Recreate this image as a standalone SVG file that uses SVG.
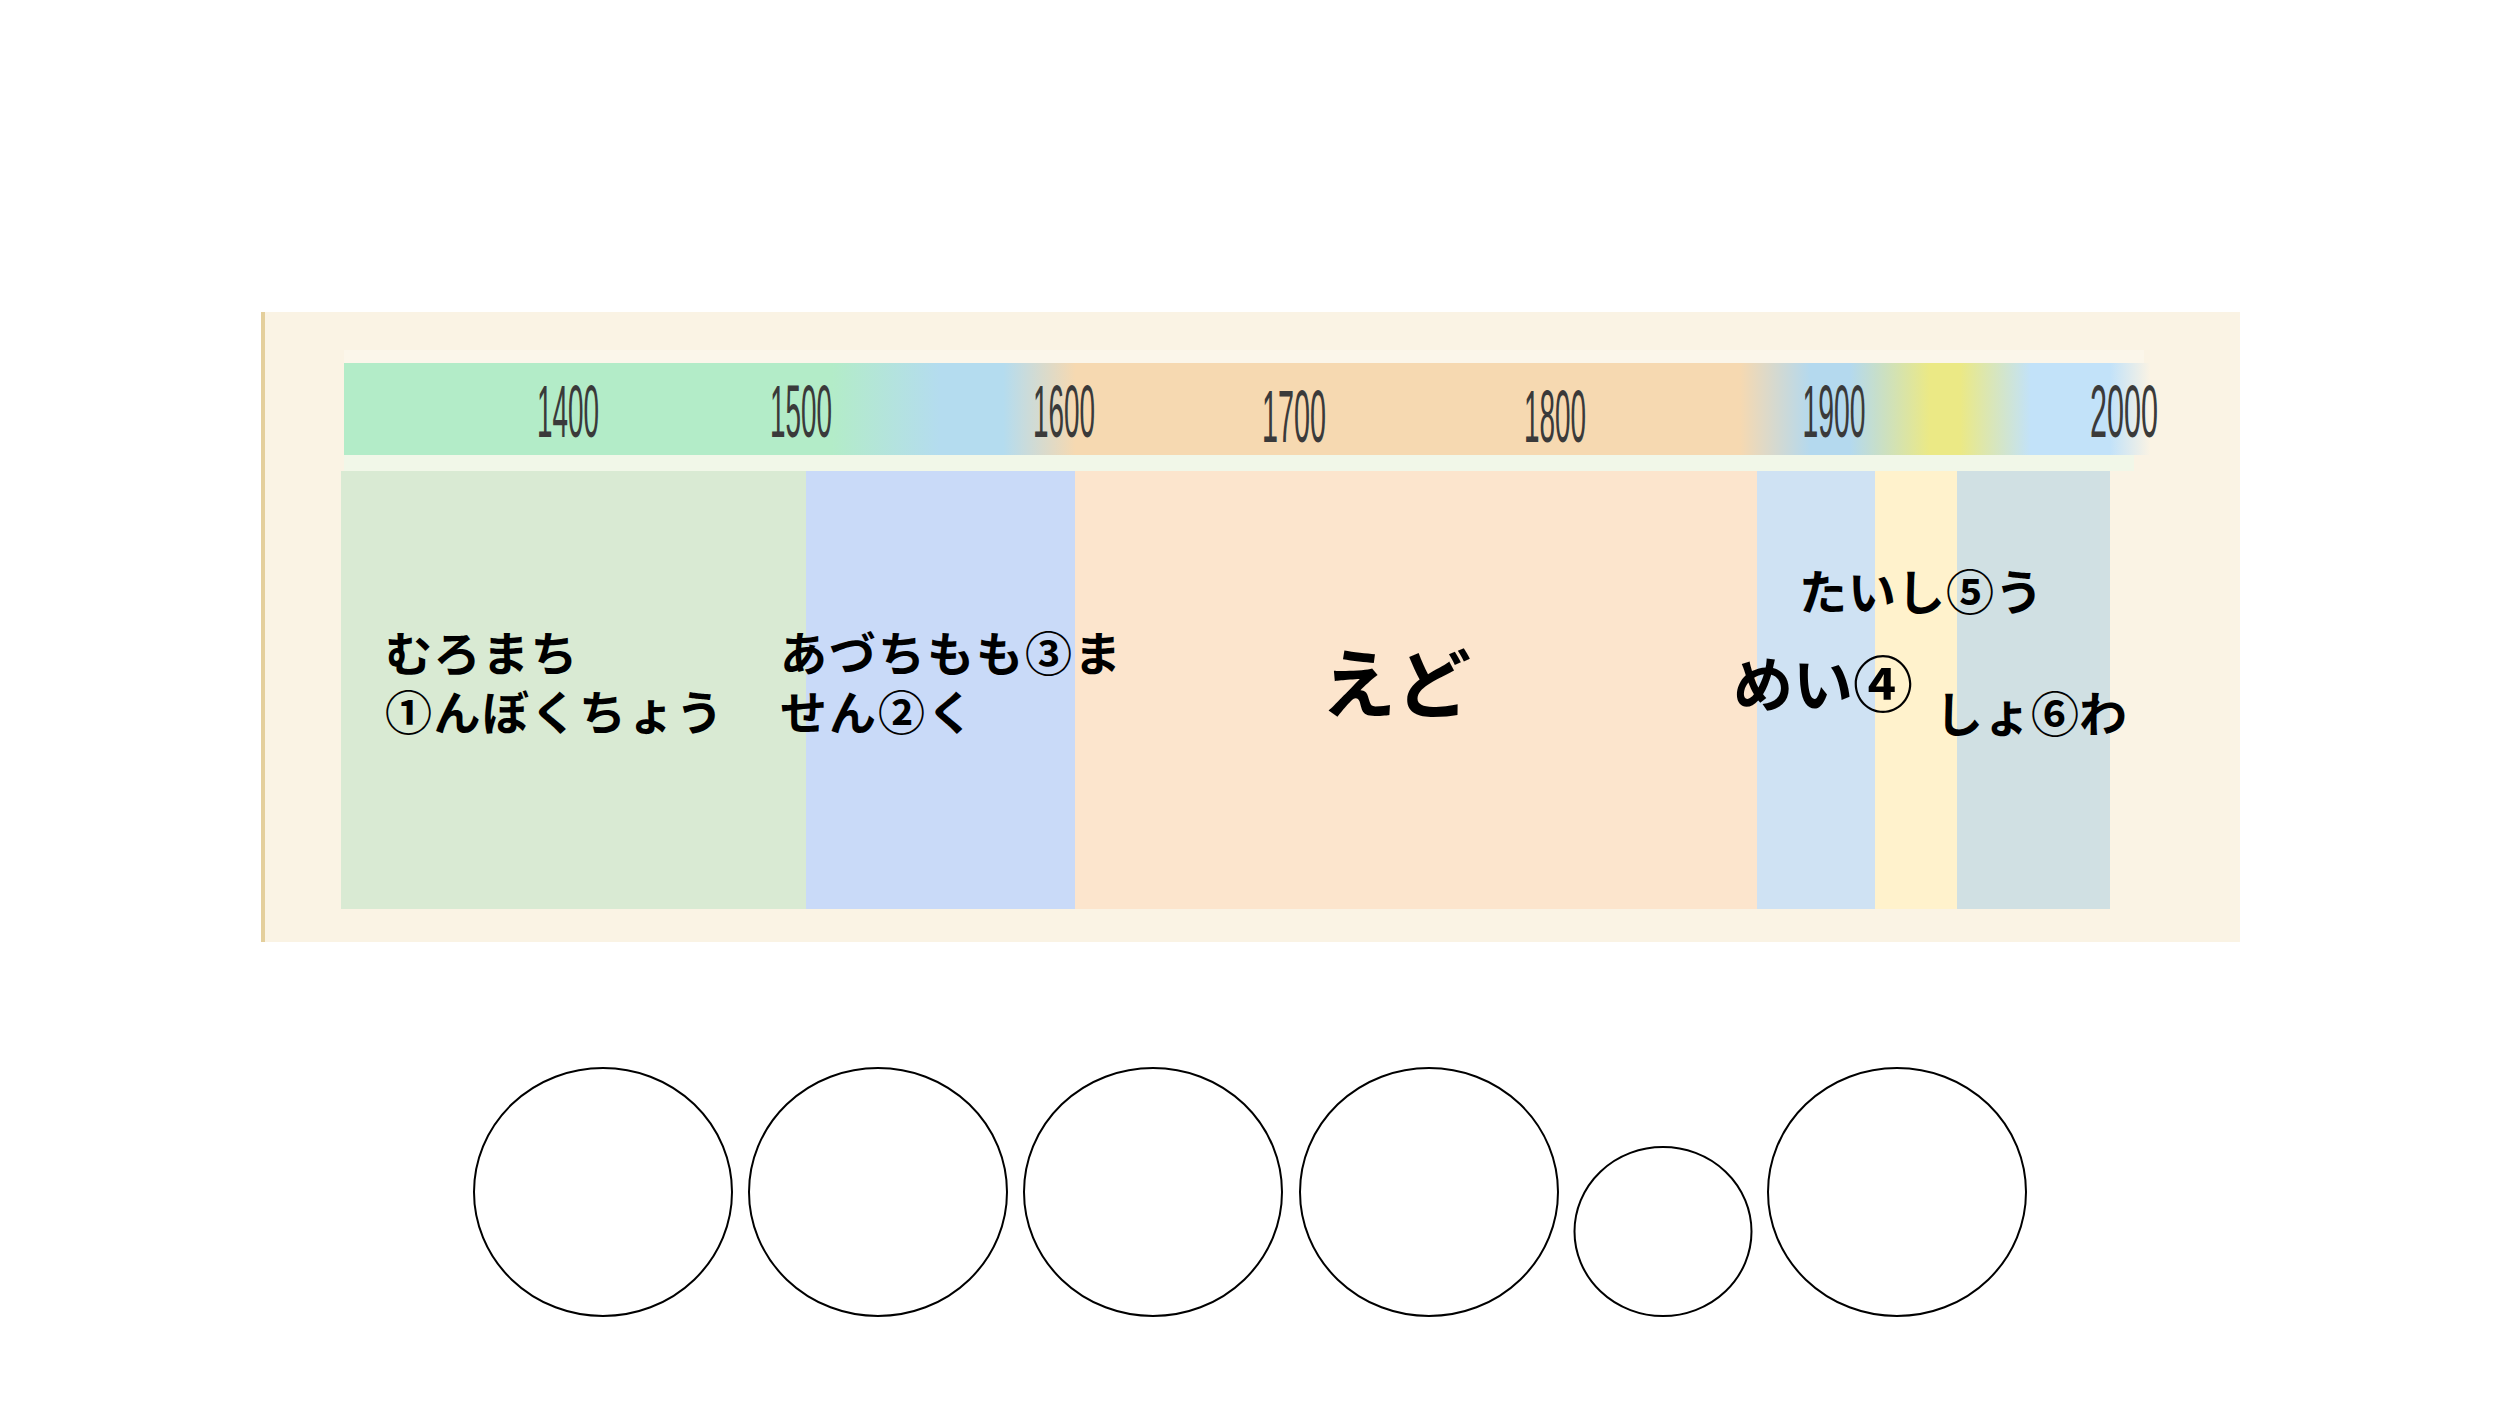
<svg xmlns="http://www.w3.org/2000/svg" width="2500" height="1415" viewBox="0 0 2500 1415">
  <defs>
    <linearGradient id="barGrad" gradientUnits="userSpaceOnUse" x1="344" y1="0" x2="2150" y2="0">
      <stop offset="0" stop-color="#b3ecc8"/>
      <stop offset="0.27" stop-color="#b3ecc8"/>
      <stop offset="0.33" stop-color="#b4dcef"/>
      <stop offset="0.365" stop-color="#b4dcef"/>
      <stop offset="0.405" stop-color="#f6d9b1"/>
      <stop offset="0.773" stop-color="#f6d9b1"/>
      <stop offset="0.812" stop-color="#b4d9ee"/>
      <stop offset="0.834" stop-color="#b4d9ee"/>
      <stop offset="0.878" stop-color="#ebe985"/>
      <stop offset="0.895" stop-color="#ebe985"/>
      <stop offset="0.934" stop-color="#c2e2f9"/>
      <stop offset="0.978" stop-color="#c2e2f9"/>
      <stop offset="1" stop-color="#faf3e4"/>
    </linearGradient>
  </defs>
  <style>
    .yr { font-family: "Liberation Sans", "DejaVu Sans", sans-serif; font-size: 74px; fill: #3a3a3a; text-anchor: middle; }
    .lbl { font-family: "Noto Sans CJK JP", "Noto Sans", sans-serif; font-weight: 700; fill: #000; }
    .node { fill: #ffffff; stroke: #000; stroke-width: 2; }
  </style>
  <rect width="2500" height="1415" fill="#ffffff"/>
  <g id="timeline">
    <rect x="261" y="312" width="1979" height="630" fill="#faf3e4"/>
    <rect x="261" y="312" width="4" height="630" fill="#e4cf9c"/>
    <rect x="344" y="350" width="1800" height="13" fill="#fbf6ea"/>
    <rect x="344" y="363" width="1806" height="92" fill="url(#barGrad)"/>
    <rect x="344" y="455" width="1790" height="16" fill="#f1f7e8"/>
    <g id="years">
      <text class="yr" x="568" y="437" textLength="62" lengthAdjust="spacingAndGlyphs" fill="#2f4a3c">1400</text>
      <text class="yr" x="801" y="437" textLength="62" lengthAdjust="spacingAndGlyphs">1500</text>
      <text class="yr" x="1064" y="437" textLength="62" lengthAdjust="spacingAndGlyphs">1600</text>
      <text class="yr" x="1294" y="442" textLength="64" lengthAdjust="spacingAndGlyphs">1700</text>
      <text class="yr" x="1555" y="442" textLength="62" lengthAdjust="spacingAndGlyphs">1800</text>
      <text class="yr" x="1834" y="437" textLength="63" lengthAdjust="spacingAndGlyphs">1900</text>
      <text class="yr" x="2124" y="437" textLength="68" lengthAdjust="spacingAndGlyphs">2000</text>
    </g>
  </g>
  <g id="periods">
    <g id="muromachi">
      <rect x="341" y="471" width="465" height="438" fill="#d9ead3"/>
    </g>
    <g id="azuchimomoyama">
      <rect x="806" y="471" width="269" height="438" fill="#c9daf8"/>
    </g>
    <g id="edo">
      <rect x="1075" y="471" width="682" height="438" fill="#fce5cd"/>
    </g>
    <g id="meiji">
      <rect x="1757" y="471" width="118" height="438" fill="#cfe2f3"/>
    </g>
    <g id="taisho">
      <rect x="1875" y="471" width="82" height="438" fill="#fff2cc"/>
    </g>
    <g id="showa">
      <rect x="1957" y="471" width="153" height="438" fill="#d0e0e3"/>
    </g>
  </g>
  <g id="labels">
    <text class="lbl" font-size="47" letter-spacing="1.5"><tspan x="385" y="671">むろまち</tspan><tspan x="385" y="730">①んぼくちょう</tspan></text>
    <text class="lbl" font-size="47" letter-spacing="2"><tspan x="780" y="671">あづちもも③ま</tspan><tspan x="780" y="730">せん②く</tspan></text>
    <text class="lbl" x="1321" y="712" font-size="75">えど</text>
    <text class="lbl" x="1799" y="610" font-size="48" letter-spacing="1">たいし⑤う</text>
    <text class="lbl" x="1733" y="707" font-size="60">めい④</text>
    <text class="lbl" x="1935" y="732" font-size="48">しょ⑥わ</text>
  </g>
  <g id="answers">
    <g id="answer1"><ellipse class="node" cx="603" cy="1192" rx="129" ry="124"/></g>
    <g id="answer2"><ellipse class="node" cx="878" cy="1192" rx="129" ry="124"/></g>
    <g id="answer3"><ellipse class="node" cx="1153" cy="1192" rx="129" ry="124"/></g>
    <g id="answer4"><ellipse class="node" cx="1429" cy="1192" rx="129" ry="124"/></g>
    <g id="answer5"><ellipse class="node" cx="1663" cy="1231.5" rx="88.5" ry="84.5"/></g>
    <g id="answer6"><ellipse class="node" cx="1897" cy="1192" rx="129" ry="124"/></g>
  </g>
  <g id="connectors"/>
</svg>
